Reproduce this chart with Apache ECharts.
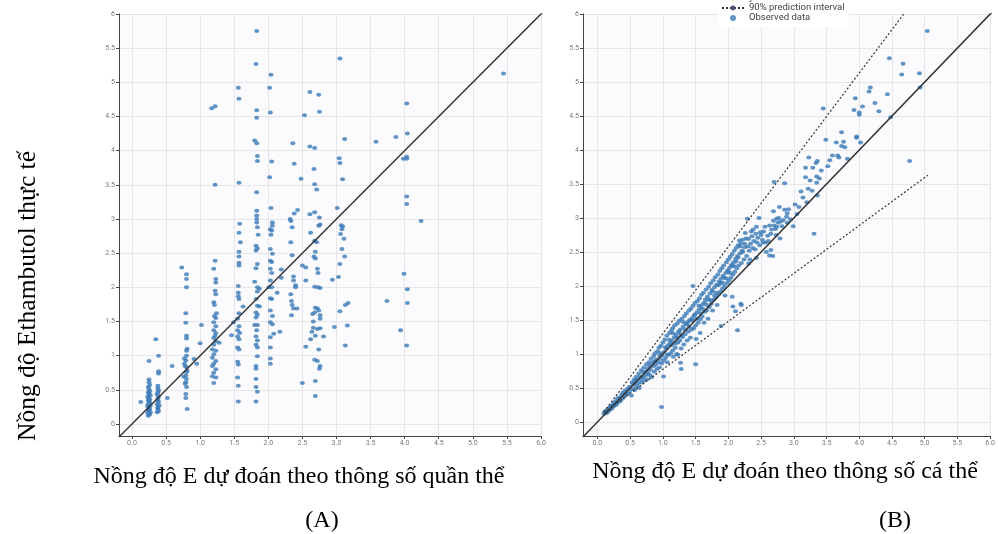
<!DOCTYPE html>
<html>
<head>
<meta charset="utf-8">
<script src="https://cdn.jsdelivr.net/npm/echarts@6/dist/echarts.min.js"></script>
<style>
html,body{margin:0;padding:0;background:#fff;}
#c{width:998px;height:534px;}
</style>
</head>
<body>
<div id="c"></div>
<script>
// Panel A: predicted from population parameters (x) vs observed (y)
const popData = [
[0.24,0.12],[0.26,0.14],[0.23,0.16],[0.27,0.17],[0.25,0.19],[0.24,0.21],[0.26,0.22],[0.25,0.24],[0.23,0.26],[0.27,0.27],[0.24,0.29],[0.26,0.31],[0.25,0.33],[0.24,0.35],[0.26,0.36],[0.25,0.38],[0.23,0.40],[0.27,0.42],[0.25,0.44],[0.24,0.46],[0.26,0.48],[0.25,0.51],[0.24,0.54],[0.26,0.57],[0.25,0.61],[0.25,0.65],[0.25,0.92],[0.13,0.32],
[0.37,0.17],[0.39,0.19],[0.38,0.22],[0.38,0.24],[0.40,0.27],[0.37,0.29],[0.39,0.32],[0.38,0.34],[0.38,0.37],[0.39,0.40],[0.37,0.43],[0.38,0.46],[0.39,0.49],[0.38,0.52],[0.38,0.56],[0.39,0.74],[0.39,0.77],[0.39,1.0],[0.35,1.24],[0.52,0.38],[0.59,0.85],
[0.73,2.29],[0.80,2.19],[0.80,2.12],[0.80,2.0],[0.79,1.62],[0.79,1.48],[0.80,1.29],[0.80,1.25],[0.81,1.10],[0.80,1.07],[0.80,1.0],[0.79,0.93],[0.77,0.88],[0.80,0.83],[0.81,0.78],[0.80,0.76],[0.79,0.71],[0.80,0.66],[0.79,0.61],[0.80,0.54],[0.79,0.44],[0.79,0.38],[0.81,0.22],[0.77,0.96],[0.78,0.85],[0.76,0.69],[0.78,0.59],
[0.91,0.95],[0.95,0.88],[1.02,1.45],[1.0,1.18],
[1.22,2.39],[1.20,2.27],[1.23,2.12],[1.23,2.07],[1.22,1.95],[1.23,1.90],[1.20,1.78],[1.21,1.74],[1.24,1.62],[1.21,1.58],[1.23,1.55],[1.20,1.49],[1.23,1.43],[1.20,1.37],[1.23,1.33],[1.22,1.29],[1.20,1.26],[1.23,1.21],[1.20,1.16],[1.18,1.09],[1.23,1.07],[1.20,1.02],[1.18,0.97],[1.23,0.92],[1.20,0.88],[1.18,0.85],[1.23,0.80],[1.20,0.75],[1.18,0.70],[1.23,0.68],[1.20,0.60],[1.28,1.19],[1.46,1.30],
[1.17,4.62],[1.22,4.65],[1.22,3.50],
[1.58,2.93],[1.57,2.80],[1.59,2.66],[1.57,2.52],[1.57,2.45],[1.57,2.36],[1.57,2.32],[1.56,2.02],[1.56,1.92],[1.56,1.87],[1.57,1.83],[1.63,1.72],[1.57,1.62],[1.55,1.54],[1.57,1.43],[1.55,1.37],[1.58,1.33],[1.55,1.28],[1.57,1.24],[1.55,1.12],[1.57,1.09],[1.55,0.91],[1.56,0.87],[1.55,0.68],[1.56,0.56],[1.56,0.33],[1.49,1.49],
[1.56,4.92],[1.57,4.76],[1.57,3.53],
[1.83,3.12],[1.83,3.05],[1.83,3.0],[1.83,2.95],[1.84,2.88],[1.85,2.77],[1.82,2.61],[1.84,2.57],[1.82,2.54],[1.84,2.34],[1.82,2.28],[1.80,2.08],[1.84,2.0],[1.87,1.98],[1.84,1.94],[1.82,1.83],[1.84,1.73],[1.87,1.72],[1.82,1.63],[1.84,1.60],[1.82,1.56],[1.80,1.45],[1.84,1.45],[1.83,1.37],[1.82,1.28],[1.84,1.22],[1.82,1.16],[1.84,1.12],[1.84,0.99],[1.82,0.85],[1.82,0.81],[1.82,0.66],[1.82,0.54],[1.84,0.47],[1.82,0.33],
[1.83,5.75],[1.82,5.27],[1.83,4.59],[1.83,4.48],[1.80,4.15],[1.83,4.11],[1.84,3.92],[1.84,3.85],[1.83,3.39],
[2.04,3.16],[2.06,2.95],[2.06,2.90],[2.03,2.85],[2.05,2.83],[2.04,2.77],[2.03,2.56],[2.06,2.49],[2.03,2.39],[2.05,2.37],[2.03,2.27],[2.05,2.21],[2.03,2.10],[2.01,2.0],[2.05,2.0],[2.13,1.92],[2.03,1.84],[2.05,1.83],[2.03,1.66],[2.06,1.58],[2.03,1.49],[2.06,1.46],[2.08,1.32],[2.03,1.27],[2.03,1.12],[2.03,0.96],[2.03,0.88],[2.17,1.35],[2.19,2.26],[2.19,2.14],
[2.04,5.11],[2.02,4.92],[2.03,4.56],[2.05,3.84],[2.02,3.61],
[2.32,3.0],[2.33,2.97],[2.35,2.88],[2.33,2.66],[2.35,2.47],[2.37,2.16],[2.37,2.10],[2.40,2.03],[2.40,2.0],[2.33,1.90],[2.34,1.80],[2.35,1.74],[2.37,1.69],[2.34,1.59],[2.50,2.32],[2.55,2.29],[2.55,2.10],[2.42,1.69],[2.55,1.13],[2.50,0.60],
[2.36,4.11],[2.38,3.81],[2.38,3.08],[2.43,3.13],[2.48,3.59],[2.53,4.52],
[2.76,2.92],[2.74,2.90],[2.62,2.80],[2.68,2.68],[2.71,2.66],[2.69,2.52],[2.67,2.45],[2.69,2.42],[2.72,2.27],[2.73,2.21],[2.68,2.01],[2.73,2.00],[2.76,1.99],[2.69,1.70],[2.72,1.69],[2.74,1.66],[2.68,1.63],[2.65,1.61],[2.76,1.59],[2.66,1.50],[2.76,1.54],[2.66,1.41],[2.72,1.39],[2.76,1.40],[2.81,1.28],[2.62,1.24],[2.69,1.29],[2.64,1.35],[2.74,1.09],[2.68,0.94],[2.72,0.92],[2.76,0.85],[2.75,0.81],[2.69,0.63],[2.69,0.41],[2.94,2.11],[2.97,1.42],
[2.61,4.86],[2.74,4.82],[2.75,4.57],[2.61,4.06],[2.68,4.04],[2.67,3.73],[2.68,3.51],[2.71,3.43],[2.61,3.07],[2.68,3.10],[2.75,3.02],
[3.07,2.91],[3.09,2.89],[3.08,2.85],[3.06,2.78],[3.11,2.71],[3.08,2.56],[3.12,2.45],[3.05,2.34],[3.03,2.15],[3.05,1.65],[3.13,1.74],[3.17,1.77],[3.16,1.44],[3.13,1.15],[3.01,3.16],
[3.05,5.35],[3.12,4.17],[3.04,3.89],[3.05,3.82],[3.09,3.58],
[3.99,2.20],[4.04,1.97],[4.04,1.77],[3.74,1.80],[3.94,1.37],[4.03,1.15],[4.24,2.97],
[4.03,4.69],[5.45,5.13],[3.58,4.13],[3.87,4.20],[4.04,4.25],[3.98,3.88],[4.03,3.91],[4.03,3.88],[4.03,3.33],[4.03,3.22]
];

// Panel B: predicted from individual parameters (x) vs observed (y)
const indData = [
[0.10,0.12],[0.11,0.15],[0.13,0.13],[0.14,0.17],[0.15,0.14],[0.16,0.19],[0.18,0.17],[0.19,0.22],[0.20,0.19],[0.22,0.24],[0.22,0.20],[0.24,0.26],[0.25,0.23],[0.26,0.29],[0.28,0.25],[0.29,0.31],[0.30,0.27],[0.31,0.35],[0.33,0.30],[0.34,0.36],[0.35,0.31],[0.37,0.40],[0.38,0.34],[0.39,0.43],[0.41,0.37],[0.42,0.46],[0.43,0.40],[0.44,0.43],[0.46,0.49],[0.47,0.42],[0.49,0.52],[0.50,0.47],
[0.52,0.39],[0.53,0.58],[0.55,0.49],[0.56,0.62],[0.57,0.47],[0.59,0.66],[0.60,0.53],[0.62,0.57],[0.63,0.71],[0.64,0.50],[0.66,0.62],[0.67,0.76],[0.68,0.58],[0.70,0.66],[0.71,0.80],[0.72,0.61],[0.74,0.69],[0.75,0.85],[0.76,0.63],[0.77,0.72],[0.79,0.88],[0.80,0.69],[0.81,0.77],[0.82,0.93],[0.83,0.66],[0.85,0.82],[0.86,0.97],[0.87,0.74],[0.88,1.01],[0.89,0.84],[0.91,0.78],[0.92,1.04],[0.93,0.88],[0.94,1.09],[0.95,0.80],[0.96,0.93],[0.97,1.12],[0.98,0.86],[0.99,0.98],[1.00,1.17],[1.01,0.67],[0.98,0.22],[1.01,0.90],[1.02,1.03],
[0.55,0.55],[0.58,0.59],[0.60,0.62],[0.65,0.66],[0.68,0.66],[0.70,0.73],[0.75,0.75],[0.78,0.79],[0.80,0.83],[0.85,0.88],[0.88,0.89],[0.90,0.92],[0.95,0.98],[0.97,1.01],
[1.03,1.21],[1.04,0.94],[1.05,1.08],[1.06,1.27],[1.07,0.88],[1.08,1.13],[1.09,0.99],[1.10,1.31],[1.11,1.16],[1.12,1.01],[1.13,1.34],[1.14,1.19],[1.15,1.38],[1.15,1.05],[1.16,0.96],[1.17,1.24],[1.18,1.42],[1.19,1.09],[1.20,1.28],[1.21,1.00],[1.22,1.45],[1.23,0.99],[1.23,1.17],[1.24,1.33],[1.25,1.49],[1.26,1.20],[1.27,0.87],[1.27,1.36],[1.28,0.78],[1.28,1.08],[1.29,1.52],[1.30,1.25],[1.31,1.40],[1.32,1.14],[1.33,1.56],[1.34,1.29],[1.35,1.44],[1.36,1.60],[1.37,1.20],[1.38,1.47],[1.39,1.33],[1.40,1.64],[1.41,1.50],[1.42,1.24],[1.43,1.67],[1.44,1.36],[1.45,1.53],[1.46,2.00],[1.46,1.71],[1.47,1.38],[1.48,1.57],[1.49,1.75],[1.50,0.85],[1.50,1.42],[1.51,1.22],[1.52,1.61],[1.53,1.78],[1.54,1.46],[1.55,1.65],[1.56,1.82],[1.57,1.31],[1.57,1.51],[1.58,1.69],[1.59,1.87],[1.60,1.55],[1.61,1.73],
[1.04,1.10],[1.07,0.99],[1.10,1.21],[1.13,1.13],[1.16,1.30],[1.19,1.15],[1.22,1.24],[1.25,1.31],[1.28,1.27],[1.31,1.47],[1.34,1.36],[1.37,1.44],[1.40,1.40],[1.43,1.50],[1.46,1.49],[1.49,1.58],[1.52,1.52],[1.55,1.71],[1.58,1.60],[1.61,1.66],[1.64,1.76],[1.67,1.72],[1.70,1.80],[1.73,1.79],[1.76,1.92],[1.79,1.86],[1.82,1.90],[1.85,2.01],[1.88,2.04],[1.91,2.05],[1.94,2.12],[1.97,2.11],[2.00,2.21],[2.03,2.19],[2.06,2.30],[2.09,2.29],[2.12,2.36],[2.15,2.42],[2.18,2.58],[2.22,2.50],[2.25,2.62],
[1.62,1.90],[1.63,1.46],[1.64,1.62],[1.65,1.80],[1.66,1.95],[1.67,1.64],[1.68,1.84],[1.69,1.52],[1.70,1.99],[1.71,1.69],[1.72,1.89],[1.73,2.04],[1.74,1.74],[1.75,1.94],[1.76,1.64],[1.77,2.08],[1.78,1.80],[1.79,1.98],[1.80,2.13],[1.81,1.83],[1.82,2.02],[1.83,1.72],[1.84,2.17],[1.85,1.88],[1.86,2.07],[1.87,2.22],[1.88,1.92],[1.89,1.41],[1.89,2.11],[1.90,2.26],[1.91,1.96],[1.92,2.15],[1.93,2.30],[1.94,2.00],[1.95,1.86],[1.96,2.19],[1.97,2.35],[1.98,2.04],[1.99,2.23],[2.00,2.39],[2.01,2.08],[2.02,2.27],[2.03,2.43],[2.04,2.12],[2.05,2.31],[2.06,1.84],[2.06,2.47],[2.07,1.70],[2.07,2.17],[2.08,2.35],[2.09,2.52],[2.10,2.21],[2.11,1.63],[2.11,2.40],[2.12,2.56],[2.13,2.26],[2.14,1.35],[2.14,2.44],[2.15,2.60],[2.16,2.30],[2.17,2.67],[2.18,2.48],[2.19,1.74],[2.19,2.63],[2.20,1.72],[2.20,2.34],[2.21,2.52],[2.22,2.68],[2.24,2.39],[2.25,2.57],[2.26,2.78],[2.27,2.70],[2.28,2.44],
[2.29,2.99],[2.30,2.58],[2.31,2.33],[2.31,2.69],[2.32,2.52],[2.33,2.39],[2.34,2.62],[2.35,2.80],[2.36,2.73],[2.37,2.56],[2.38,2.83],[2.39,2.66],[2.41,2.54],[2.42,2.77],[2.43,2.87],[2.43,2.41],[2.44,2.64],[2.45,2.71],[2.47,3.00],[2.48,2.60],[2.49,2.79],[2.50,2.75],[2.52,2.68],[2.53,2.64],[2.54,2.80],[2.56,2.87],[2.57,2.64],[2.58,2.50],[2.60,2.74],[2.61,2.66],[2.63,2.89],[2.63,2.45],[2.65,2.53],[2.65,2.77],[2.66,2.83],[2.68,2.44],[2.69,2.96],[2.69,3.10],[2.70,2.89],[2.70,3.53],[2.72,2.84],[2.73,2.75],[2.74,2.87],[2.74,2.99],[2.76,2.93],[2.77,3.00],[2.78,3.16],[2.79,2.70],[2.80,2.95],[2.82,2.88],[2.84,2.97],[2.86,3.12],[2.86,3.51],[2.89,3.02],[2.90,2.93],[2.90,3.07],[2.92,3.13],[2.95,2.98],[2.99,2.88],
[3.02,3.20],[3.05,3.06],[3.08,3.16],[3.11,3.39],[3.14,3.30],[3.18,3.74],[3.18,3.60],[3.20,3.23],[3.22,3.43],[3.23,3.89],[3.25,3.55],[3.28,3.40],[3.29,3.74],[3.31,2.77],[3.34,3.81],[3.35,3.61],[3.35,3.52],[3.36,3.84],[3.36,3.33],[3.39,3.58],[3.42,3.70],[3.45,4.61],[3.49,4.15],[3.52,3.76],[3.55,3.85],[3.59,3.92],[3.65,4.11],[3.67,3.92],[3.69,3.89],[3.73,4.26],[3.73,4.06],[3.76,4.12],[3.78,4.04],[3.82,3.87],[3.92,4.59],[3.94,4.76],[3.96,4.20],[3.96,4.18],
[4.00,4.55],[4.00,4.52],[4.02,4.11],[4.05,4.64],[4.15,4.86],[4.17,4.92],[4.24,4.69],[4.30,4.57],[4.43,4.82],[4.46,5.35],[4.48,4.48],[4.65,5.11],[4.67,5.27],[4.77,3.84],[4.92,5.13],[4.93,4.92],[5.04,5.75]
];

// Reference lines
const identityLine = [[-0.5,-0.5],[6.5,6.5]];
const upperPI = [[0.10,0.15],[4.68,6.00]];
const lowerPI = [[0.10,0.14],[5.05,3.63]];

// Text
const yTitle = 'Nồng độ Ethambutol thực tế';
const xTitleA = 'Nồng độ E dự đoán theo thông số quần thể';
const xTitleB = 'Nồng độ E dự đoán theo thông số cá thể';
const panelA = '(A)';
const panelB = '(B)';
const legendNames = ['y = x line', '90% prediction interval', 'Observed data'];

const dotColor = '#3b7ab7';
const gridColor = '#e6e6ea';
const labelStyle = {color:'#7a7a7a', fontSize:7, fontFamily:'Roboto'};

function xAxisCfg(idx, min, max){
  return {
    type:'value', gridIndex:idx, min:min, max:max, splitNumber:12, minInterval:0.5, maxInterval:0.5,
    axisLine:{show:true, onZero:false, lineStyle:{color:'#444', width:1}},
    axisTick:{show:true, length:3, lineStyle:{color:'#444'}},
    axisLabel:Object.assign({margin:4, showMinLabel:false, formatter:v=>v.toFixed(1)}, labelStyle),
    splitLine:{show:true, lineStyle:{color:gridColor, width:1}}
  };
}
function yAxisCfg(idx, min, max){
  return {
    type:'value', gridIndex:idx, min:min, max:max, splitNumber:12, minInterval:0.5, maxInterval:0.5,
    axisLine:{show:true, onZero:false, lineStyle:{color:'#444', width:1}},
    axisTick:{show:true, length:3, lineStyle:{color:'#444'}},
    axisLabel:Object.assign({margin:4, showMinLabel:false}, labelStyle),
    splitLine:{show:true, lineStyle:{color:gridColor, width:1}}
  };
}

const serif = '"Liberation Serif", "Times New Roman", serif';
function txt(x, y, text, size, rot){
  return {type:'text', x:x, y:y, rotation:rot||0,
    style:{text:text, font:size+'px '+serif, fill:'#000', align:'center', verticalAlign:'middle', textAlign:'center', textVerticalAlign:'middle'}};
}

const chart = echarts.init(document.getElementById('c'), null, {renderer:'canvas'});
chart.setOption({
  animation:false,
  backgroundColor:'#fff',
  grid:[
    {left:119, top:14, width:422, height:422, show:true, backgroundColor:'#fbfbfd', borderWidth:0},
    {left:583, top:14, width:423, height:422, show:true, backgroundColor:'#fbfbfd', borderWidth:0}
  ],
  xAxis:[xAxisCfg(0,-0.19,6.0), xAxisCfg(1,-0.22,6.0)],
  yAxis:[yAxisCfg(0,-0.176,6.0), yAxisCfg(1,-0.206,6.0)],
  legend:{
    orient:'vertical', left:718, top:-9, padding:[2,4,4,3], itemGap:0, itemWidth:22, itemHeight:6,
    backgroundColor:'#fff',
    textStyle:{color:'#444', fontSize:9.5, lineHeight:9, fontFamily:'Roboto'},
    data:[
      {name:legendNames[0]},
      {name:legendNames[1]},
      {name:legendNames[2], icon:'circle'}
    ]
  },
  series:[
    {type:'line', xAxisIndex:0, yAxisIndex:0, data:identityLine, symbol:'none', clip:true, silent:true,
     lineStyle:{color:'#333', width:1.5}},
    {type:'scatter', xAxisIndex:0, yAxisIndex:0, data:popData, symbol:'circle', symbolSize:[5,4],
     itemStyle:{color:dotColor}},
    {name:legendNames[0], type:'line', xAxisIndex:1, yAxisIndex:1, data:identityLine, symbol:'none', clip:true,
     lineStyle:{color:'#333', width:1.5}},
    {name:legendNames[1], type:'line', xAxisIndex:1, yAxisIndex:1, data:upperPI, symbol:'none', clip:true,
     lineStyle:{color:'#333', width:1.2, type:[2,2]}},
    {name:legendNames[1], type:'line', xAxisIndex:1, yAxisIndex:1, data:lowerPI, symbol:'none', clip:true,
     lineStyle:{color:'#333', width:1.2, type:[2,2]}},
    {name:legendNames[2], type:'scatter', xAxisIndex:1, yAxisIndex:1, data:indData, symbol:'circle', symbolSize:[5,4],
     itemStyle:{color:dotColor}}
  ],
  graphic:[
    txt(28, 296, yTitle, 25.5, Math.PI/2),
    txt(299, 477, xTitleA, 24),
    txt(785, 472, xTitleB, 24),
    txt(322, 521, panelA, 24),
    txt(895, 521, panelB, 24)
  ]
});
</script>
</body>
</html>
